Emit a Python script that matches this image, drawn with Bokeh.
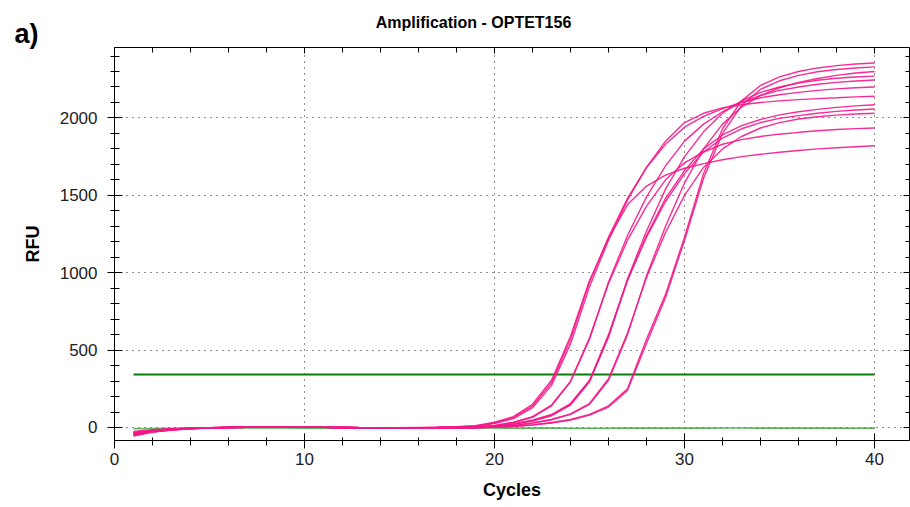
from bokeh.plotting import figure
from bokeh.models import LinearAxis, Range1d, Label, SingleIntervalTicker, CustomJSTickFormatter
from bokeh.embed import file_html
from bokeh.resources import INLINE

cycles = list(range(1, 41))

# Sample amplification curves (RFU per cycle)
curve_a1 = [-38,-22,-12,-6,-2,1,3,4,3,2,1,0,-1,-2,-2,0,2,5,
            12,34,70,150,305,590,950,1220,1440,1560,1630,1675,1705,1730,1750,1765,1778,1790,1800,1807,1814,1820]
curve_a2 = [-50,-28,-15,-7,-3,0,2,4,3,2,1,0,-1,-2,-2,-1,1,4,
            10,30,65,140,290,570,940,1230,1480,1680,1830,1940,2010,2060,2100,2130,2150,2165,2178,2188,2195,2200]
curve_a3 = [-30,-18,-10,-5,-2,1,3,4,4,2,1,0,-1,-1,-2,-1,1,3,
            8,26,58,128,272,540,910,1210,1470,1680,1850,1970,2030,2065,2085,2100,2110,2118,2125,2130,2136,2140]
curve_b1 = [-42,-24,-13,-6,-2,0,2,3,3,2,1,0,-1,-2,-3,-2,0,2,
            3,14,35,70,145,300,580,930,1210,1430,1600,1710,1780,1830,1860,1880,1895,1907,1917,1925,1931,1935]
curve_b2 = [-55,-30,-16,-8,-3,0,2,3,3,2,1,0,-1,-2,-2,-1,0,2,
            2,12,32,66,140,295,570,940,1240,1490,1690,1850,1960,2040,2100,2145,2178,2200,2218,2230,2239,2245]
curve_c1 = [-35,-20,-11,-5,-2,1,3,4,3,2,1,0,-1,-2,-2,-2,-1,0,
            0,8,22,45,80,150,300,590,950,1240,1480,1660,1800,1890,1950,1990,2020,2040,2055,2068,2078,2085]
curve_c2 = [-48,-27,-15,-7,-3,0,2,3,3,2,1,0,-1,-2,-3,-2,-1,0,
            0,6,20,42,76,145,295,585,960,1270,1540,1750,1910,2030,2110,2165,2200,2225,2243,2256,2264,2270]
curve_c3 = [-25,-15,-8,-4,-1,1,3,4,3,2,1,0,-1,-1,-2,-1,-1,1,
            1,9,24,48,84,155,305,600,955,1230,1460,1640,1780,1870,1930,1970,1997,2015,2030,2042,2051,2058]
curve_d1 = [-40,-23,-12,-6,-2,0,2,3,3,2,1,0,-1,-2,-3,-3,-2,-1,
            -1,4,14,30,52,88,155,315,610,970,1260,1500,1680,1800,1880,1935,1970,1993,2008,2018,2025,2030]
curve_d2 = [-52,-29,-16,-8,-3,0,2,3,3,2,1,0,-1,-2,-3,-3,-2,-1,
            -1,3,12,28,50,85,150,305,600,980,1300,1580,1800,1960,2070,2145,2195,2230,2255,2275,2290,2300]
curve_e1 = [-45,-25,-14,-7,-3,0,2,3,3,2,1,0,-1,-2,-3,-3,-3,-2,
            -2,2,8,18,32,52,85,140,250,570,860,1230,1640,1930,2110,2210,2265,2300,2323,2338,2348,2355]
curve_e2 = [-33,-19,-10,-5,-2,1,2,3,3,2,1,0,-1,-2,-3,-3,-3,-2,
            -2,1,6,15,28,48,80,132,240,545,840,1210,1610,1900,2080,2185,2240,2275,2298,2313,2323,2330]

# No-template control
ntc = [-8,-6,-5,-4,-4,-3,-3,-3,-3,-4,
       -4,-4,-4,-4,-4,-4,-4,-3,-3,-3,
       -4,-4,-4,-5,-5,-5,-4,-4,-4,-4,
       -4,-3,-3,-4,-4,-4,-4,-4,-5,-4]

threshold = 342
threshold_start = 1
threshold_end = 40

title_text = "Amplification - OPTET156"
panel_text = "a)"
x_label = "Cycles"
y_label = "RFU"

curves = [curve_a1, curve_a2, curve_a3, curve_b1, curve_b2, curve_c1,
          curve_c2, curve_c3, curve_d1, curve_d2, curve_e1, curve_e2]

FONT = "Liberation Sans"
PINK = "#f5178a"

p = figure(width=910, height=507, output_backend="svg", toolbar_location=None,
           x_range=Range1d(0, 41.84), y_range=Range1d(-84, 2455),
           min_border_left=114, min_border_right=1, min_border_top=44, min_border_bottom=67,
           background_fill_color="white", border_fill_color="white")
p.outline_line_color = None

xt = SingleIntervalTicker(interval=10, num_minor_ticks=5)
yt = SingleIntervalTicker(interval=500, num_minor_ticks=5)

for ax in (p.xaxis[0], p.yaxis[0]):
    ax.axis_line_color = "black"
    ax.major_tick_line_color = "black"
    ax.minor_tick_line_color = "black"
    ax.major_label_text_font = FONT
    ax.major_label_text_font_size = "17px"
    ax.major_label_text_color = "#222222"
    ax.axis_label_text_font = FONT
    ax.axis_label_text_font_size = "18px"
    ax.axis_label_text_font_style = "bold"
    ax.axis_label_text_color = "black"

p.xaxis[0].ticker = xt
p.xaxis[0].major_tick_in = 7
p.xaxis[0].major_tick_out = 8
p.xaxis[0].minor_tick_in = 3
p.xaxis[0].minor_tick_out = 5
p.xaxis[0].major_label_standoff = 4
p.xaxis[0].axis_label = x_label
p.xaxis[0].axis_label_standoff = 12

p.yaxis[0].ticker = yt
p.yaxis[0].major_tick_in = 8
p.yaxis[0].major_tick_out = 7
p.yaxis[0].minor_tick_in = 5
p.yaxis[0].minor_tick_out = 4
p.yaxis[0].major_label_standoff = 10
p.yaxis[0].axis_label = y_label
p.yaxis[0].axis_label_standoff = 14

top_axis = LinearAxis(ticker=SingleIntervalTicker(interval=10, num_minor_ticks=5),
                      formatter=CustomJSTickFormatter(code="return ''"), major_label_standoff=0,
                      major_tick_in=6, major_tick_out=0, minor_tick_in=5, minor_tick_out=0,
                      axis_line_color="black", major_tick_line_color="black",
                      minor_tick_line_color="black")
right_axis = LinearAxis(ticker=SingleIntervalTicker(interval=500, num_minor_ticks=5),
                        formatter=CustomJSTickFormatter(code="return ''"), major_label_standoff=0,
                        major_tick_in=6, major_tick_out=0, minor_tick_in=4, minor_tick_out=0,
                        axis_line_color="black", major_tick_line_color="black",
                        minor_tick_line_color="black")
p.add_layout(top_axis, "above")
p.add_layout(right_axis, "right")

p.xgrid.ticker = xt
p.ygrid.ticker = yt
for g in (p.xgrid[0], p.ygrid[0]):
    g.grid_line_color = "#222222"
    g.grid_line_dash = "1 5"
    g.grid_line_width = 1

# NTC (green, near zero)
p.line(cycles, ntc, line_color="#3da83d", line_width=1.6, line_alpha=0.85)

# Threshold
p.segment(x0=[threshold_start], y0=[threshold], x1=[threshold_end], y1=[threshold],
          line_color="#0b7d0b", line_width=2)

for c in curves:
    p.line(cycles, c, line_color=PINK, line_width=1.4, line_alpha=0.9)

# Title and panel letter (canvas coordinates, placed in the top panel)
p.add_layout(Label(x=473, y=22, x_units="canvas", y_units="canvas", text=title_text,
                   text_align="center", text_baseline="middle",
                   text_font=FONT, text_font_size="16px", text_font_style="bold",
                   text_color="black"), "above")
p.add_layout(Label(x=14, y=33, x_units="canvas", y_units="canvas", text=panel_text,
                   text_align="left", text_baseline="middle",
                   text_font=FONT, text_font_size="27px", text_font_style="bold",
                   text_color="black"), "above")

open("out.html", "w").write(file_html(p, INLINE))
